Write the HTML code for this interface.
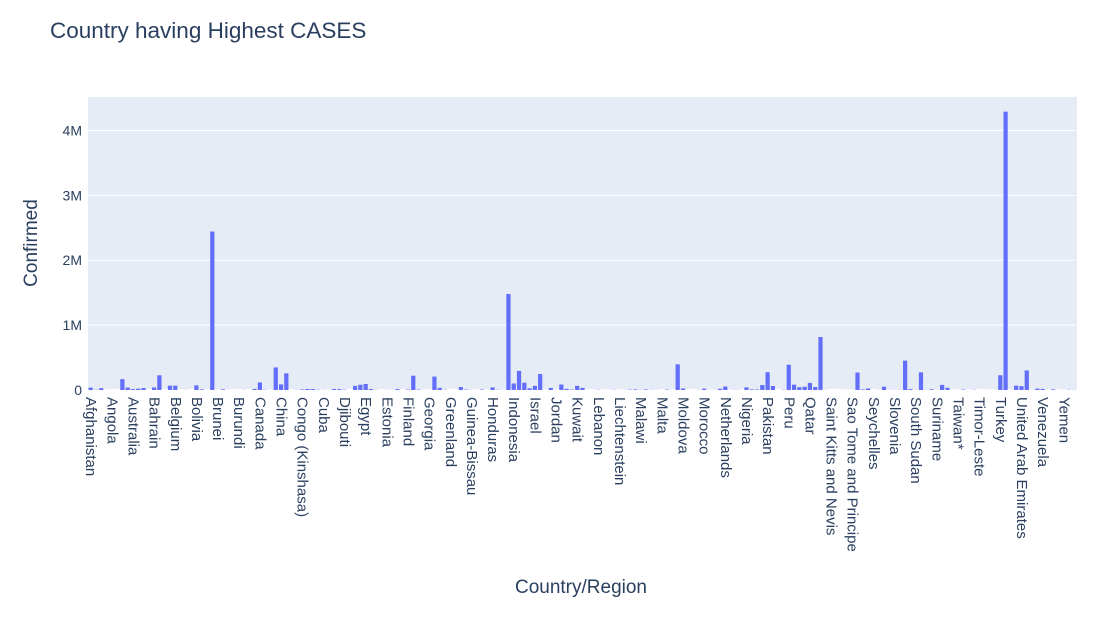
<!DOCTYPE html>
<html><head><meta charset="utf-8">
<style>
html,body{margin:0;padding:0;background:#fff;}
svg text{font-family:"Liberation Sans",Arial,sans-serif;fill:#2a3f5f;}
</style></head>
<body>
<svg id="chart" width="1114" height="614" xmlns="http://www.w3.org/2000/svg">
<rect x="0" y="0" width="1114" height="614" fill="#fff"/>
<text x="50" y="38" font-size="22.5">Country having Highest CASES</text>
<rect x="88" y="97" width="989" height="293" fill="#E5ECF6"/>
<g id="grid"></g>
<g id="bars"></g>
<g id="yticks"></g>
<g id="xticks"></g>
<text x="0" y="0" font-size="19" text-anchor="middle" transform="translate(37,243) rotate(-90)">Confirmed</text>
<text x="581" y="593" font-size="19" text-anchor="middle">Country/Region</text>
</svg>
<script>
const countries = ["Afghanistan","Albania","Algeria","Andorra","Angola","Antigua and Barbuda","Argentina","Armenia","Australia","Austria","Azerbaijan","Bahamas","Bahrain","Bangladesh","Barbados","Belarus","Belgium","Belize","Benin","Bhutan","Bolivia","Bosnia and Herzegovina","Botswana","Brazil","Brunei","Bulgaria","Burkina Faso","Burma","Burundi","Cabo Verde","Cambodia","Cameroon","Canada","Central African Republic","Chad","Chile","China","Colombia","Comoros","Congo (Brazzaville)","Congo (Kinshasa)","Costa Rica","Cote d'Ivoire","Croatia","Cuba","Cyprus","Czechia","Denmark","Djibouti","Dominica","Dominican Republic","Ecuador","Egypt","El Salvador","Equatorial Guinea","Eritrea","Estonia","Eswatini","Ethiopia","Fiji","Finland","France","Gabon","Gambia","Georgia","Germany","Ghana","Greece","Greenland","Grenada","Guatemala","Guinea","Guinea-Bissau","Guyana","Haiti","Holy See","Honduras","Hungary","Iceland","India","Indonesia","Iran","Iraq","Ireland","Israel","Italy","Jamaica","Japan","Jordan","Kazakhstan","Kenya","Kosovo","Kuwait","Kyrgyzstan","Laos","Latvia","Lebanon","Lesotho","Liberia","Libya","Liechtenstein","Lithuania","Luxembourg","Madagascar","Malawi","Malaysia","Maldives","Mali","Malta","Mauritania","Mauritius","Mexico","Moldova","Monaco","Mongolia","Montenegro","Morocco","Mozambique","Namibia","Nepal","Netherlands","New Zealand","Nicaragua","Niger","Nigeria","North Macedonia","Norway","Oman","Pakistan","Panama","Papua New Guinea","Paraguay","Peru","Philippines","Poland","Portugal","Qatar","Romania","Russia","Rwanda","Saint Kitts and Nevis","Saint Lucia","Saint Vincent and the Grenadines","San Marino","Sao Tome and Principe","Saudi Arabia","Senegal","Serbia","Seychelles","Sierra Leone","Singapore","Slovakia","Slovenia","Somalia","South Africa","South Korea","South Sudan","Spain","Sri Lanka","Sudan","Suriname","Sweden","Switzerland","Syria","Taiwan*","Tajikistan","Tanzania","Thailand","Timor-Leste","Togo","Trinidad and Tobago","Tunisia","Turkey","US","Uganda","Ukraine","United Arab Emirates","United Kingdom","Uruguay","Uzbekistan","Venezuela","Vietnam","West Bank and Gaza","Western Sahara","Yemen","Zambia","Zimbabwe"];
const confirmed = [36263,4880,27973,907,950,86,167416,37390,15303,20558,30446,382,39482,226225,110,67251,66428,48,1770,99,71181,10498,739,2442375,141,10621,1100,350,378,2328,226,17110,116458,4599,922,347923,86783,257101,354,3200,8844,15841,15655,4881,2532,1060,15516,13761,5059,18,64156,81161,92482,15035,3071,265,2034,2316,14547,27,7398,220352,7189,326,1137,207112,33624,4227,14,23,45309,7055,1954,389,7340,12,39741,4448,1854,1480073,100303,293606,112585,25892,63985,246286,853,31142,1176,84648,17975,7413,64379,33296,20,1219,3882,505,1167,2827,86,2019,6321,9690,3664,8904,3369,2513,701,6208,344,395489,23154,116,289,2893,20887,1701,1843,18752,53413,1557,3439,1132,41180,10213,9132,77058,274289,61442,62,4548,389717,82040,43402,50299,109597,45902,816680,1879,17,24,52,699,865,268934,9764,24141,114,1783,50838,2181,2087,3196,452529,14203,2305,272421,2805,11424,1483,79395,34477,674,462,7235,509,3297,24,874,148,1455,227019,4290259,1128,67096,59177,301708,1202,21209,15988,431,10621,10,1691,4552,2704];
const yTickValues = [0,1000000,2000000,3000000,4000000];
const yTickLabels = ["0","1M","2M","3M","4M"];

const NS="http://www.w3.org/2000/svg";
const X0=88,X1=1077,Y0=390,YT=97,YMAX=4516062;
const step=(X1-X0)/countries.length;
function xScale(i){return X0+step*(i+0.5);}
function yScale(v){return Y0-(Y0-YT)*v/YMAX;}
function mk(tag,attrs,parent){const e=document.createElementNS(NS,tag);for(const k in attrs)e.setAttribute(k,attrs[k]);parent.appendChild(e);return e;}

const grid=document.getElementById('grid'),yt=document.getElementById('yticks');
yTickValues.forEach((v,i)=>{
  const y=yScale(v);
  const l=mk('line',{x1:X0,x2:X1,y1:y,y2:y,stroke:'#fff','stroke-width':i===0?2:1},grid);
  
  
  const t=mk('text',{x:82,y:y+5,'font-size':14,'text-anchor':'end'},yt);
  t.textContent=yTickLabels[i];
  
  
});
const bars=document.getElementById('bars');
confirmed.forEach((v,i)=>{
  const w=step*0.8,y=yScale(v);
  const r=mk('rect',{x:xScale(i)-w/2,y:y,width:w,height:Math.max(0,Y0-y),fill:'#636efa'},bars);
  
  
});
const xt=document.getElementById('xticks');
countries.forEach((c,i)=>{
  if(i%4!==0)return;
  const x=xScale(i);
  const t=mk('text',{x:0,y:0,'font-size':15,'dominant-baseline':'central',transform:`translate(${x},397) rotate(90)`},xt);
  t.textContent=c;
  
  
});
</script>
</body></html>
